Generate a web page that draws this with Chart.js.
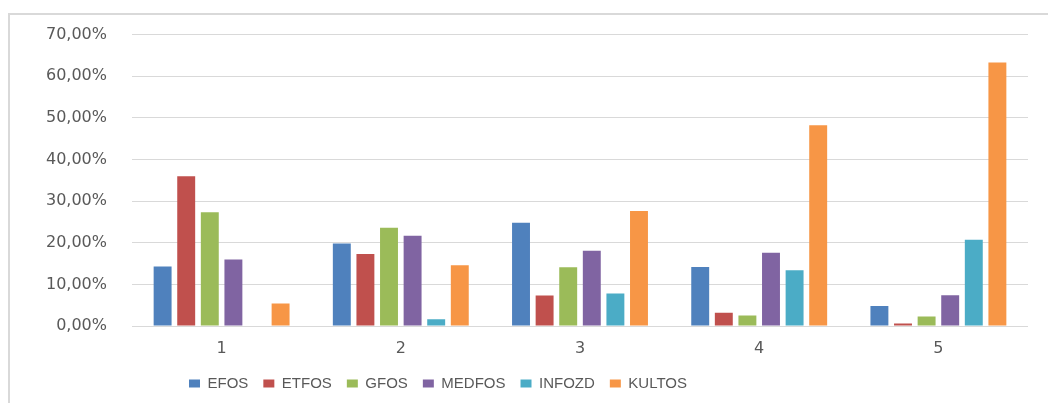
<!DOCTYPE html>
<html>
<head>
<meta charset="utf-8">
<script src="https://cdn.jsdelivr.net/npm/chart.js@4"></script>
<style>
    html, body { margin: 0; padding: 0; background: #fff; }
    #wrap { position: relative; width: 1048px; height: 403px; overflow: hidden; }
    #frame {
        position: absolute; left: 8px; top: 13px; right: -4px; bottom: -4px;
        border-top: 2px solid #d9d9d9; border-left: 2px solid #d9d9d9;
    }
    canvas { position: absolute; left: 0; top: 0; }
</style>
</head>
<body>
<div id="wrap">
    <div id="frame"></div>
    <canvas id="chart" width="1048" height="403"></canvas>
</div>
<script>
// категории и значения (в процентах)
const categories = ['1', '2', '3', '4', '5'];
const efos   = [14.3, 19.8, 24.8, 14.2, 4.8];
const etfos  = [36.0, 17.3, 7.3, 3.2, 0.6];
const gfos   = [27.3, 23.6, 14.1, 2.5, 2.3];
const medfos = [16.0, 21.7, 18.1, 17.6, 7.4];
const infozd = [0, 1.6, 7.8, 13.4, 20.7];
const kultos = [5.4, 14.6, 27.6, 48.2, 63.3];
const yTicks = [0, 10, 20, 30, 40, 50, 60, 70];

const seriesNames = ['EFOS', 'ETFOS', 'GFOS', 'MEDFOS', 'INFOZD', 'KULTOS'];
const seriesData = [efos, etfos, gfos, medfos, infozd, kultos];
const colors = ['#4F81BD', '#C0504D', '#9BBB59', '#8064A2', '#4BACC6', '#F79646'];

const textColor = '#595959';

// сдвиг легенды, как в исходной картинке
const legendShift = {
    id: 'legendShift',
    beforeDraw(chart) {
        if (chart.legend) {
            chart.legend.left = chart.chartArea.left + 42;
        }
    }
};

const ctx = document.getElementById('chart').getContext('2d');
new Chart(ctx, {
    type: 'bar',
    data: {
        labels: categories,
        datasets: seriesNames.map((name, i) => ({
            label: name,
            data: seriesData[i],
            backgroundColor: colors[i],
            borderWidth: 0,
            categoryPercentage: 0.79,
            barPercentage: 0.76
        }))
    },
    options: {
        responsive: false,
        animation: false,
        devicePixelRatio: 1,
        layout: {
            padding: { left: 10, right: 20, top: 33, bottom: 2 }
        },
        plugins: {
            tooltip: { enabled: false },
            legend: {
                position: 'bottom',
                align: 'start',
                labels: {
                    boxWidth: 11,
                    boxHeight: 8,
                    padding: 15,
                    color: textColor,
                    font: { family: '"Liberation Sans", Arial, sans-serif', size: 15 }
                }
            }
        },
        scales: {
            x: {
                grid: { display: false, drawTicks: false },
                border: { display: false },
                ticks: {
                    color: textColor,
                    padding: 13,
                    font: { family: '"DejaVu Sans", sans-serif', size: 16 }
                },
                afterFit(scale) { scale.height = 35; }
            },
            y: {
                min: 0,
                max: 70,
                afterBuildTicks(scale) {
                    scale.ticks = yTicks.map(v => ({ value: v }));
                },
                grid: { color: '#d9d9d9', lineWidth: 1, drawTicks: false },
                border: { display: false },
                ticks: {
                    color: textColor,
                    padding: 25,
                    font: { family: '"DejaVu Sans", sans-serif', size: 16 },
                    callback: v => v.toFixed(2).replace('.', ',') + '%'
                },
                afterFit(scale) { scale.width = 122; }
            }
        }
    },
    plugins: [legendShift]
});
</script>
</body>
</html>
